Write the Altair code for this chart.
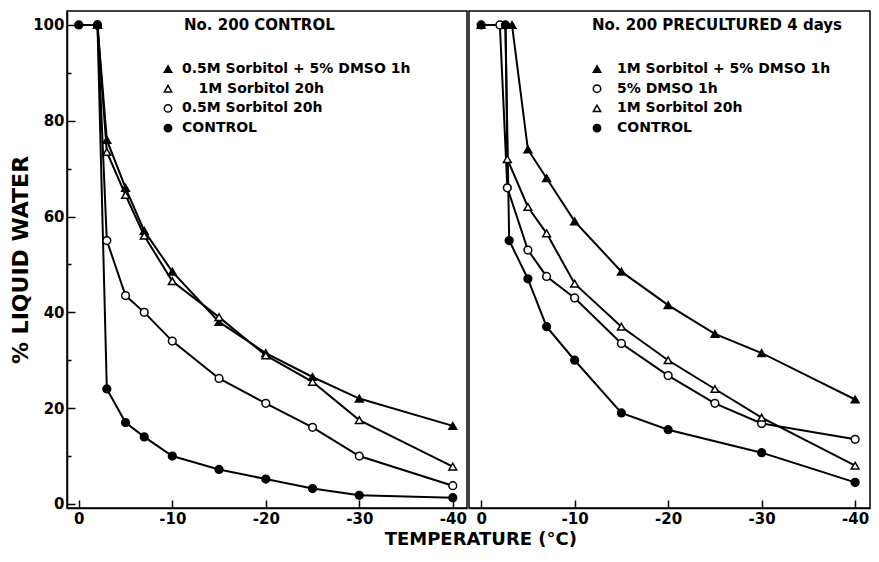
import altair as alt
import pandas as pd

FONT = "DejaVu Sans"

# ---------------- Panel A: No. 200 CONTROL ----------------
a_title = "No. 200 CONTROL"
a_labels = ["0.5M Sorbitol + 5% DMSO 1h", "1M Sorbitol 20h", "0.5M Sorbitol 20h", "CONTROL"]
a_shapes = ["triangle-up", "triangle-up", "circle", "circle"]
a_fills = ["black", "white", "white", "black"]

a1_t = [-2, -3, -5, -7, -10, -15, -20, -25, -30, -40]
a1_v = [100, 76, 66, 57, 48.5, 38, 31.5, 26.5, 22, 16.3]
a2_t = [-2, -3, -5, -7, -10, -15, -20, -25, -30, -40]
a2_v = [100, 73.5, 64.5, 56, 46.5, 39, 31, 25.5, 17.5, 7.8]
a3_t = [-2, -3, -5, -7, -10, -15, -20, -25, -30, -40]
a3_v = [100, 55, 43.5, 40, 34, 26.2, 21, 16, 10, 3.8]
a4_t = [0, -2, -3, -5, -7, -10, -15, -20, -25, -30, -40]
a4_v = [100, 100, 24, 17, 14, 10, 7.2, 5.2, 3.2, 1.8, 1.3]

# ---------------- Panel B: No. 200 PRECULTURED 4 days ----------------
b_title = "No. 200 PRECULTURED 4 days"
b_labels = ["1M Sorbitol + 5% DMSO 1h", "5% DMSO 1h", "1M Sorbitol 20h ", "CONTROL "]
b_shapes = ["triangle-up", "circle", "triangle-up", "circle"]
b_fills = ["black", "white", "white", "black"]

b1_t = [-3.3, -5, -7, -10, -15, -20, -25, -30, -40]
b1_v = [100, 74, 68, 59, 48.5, 41.5, 35.5, 31.5, 21.8]
b2_t = [-2, -2.8, -5, -7, -10, -15, -20, -25, -30, -40]
b2_v = [100, 66, 53, 47.5, 43, 33.5, 26.8, 21, 16.8, 13.5]
b3_t = [0, -2.6, -2.8, -5, -7, -10, -15, -20, -25, -30, -40]
b3_v = [100, 100, 72, 62, 56.5, 46, 37, 30, 24, 18, 8]
b4_t = [0, -2.6, -3, -5, -7, -10, -15, -20, -30, -40]
b4_v = [100, 100, 55, 47, 37, 30, 19, 15.5, 10.7, 4.5]

x_ticks = [0, -10, -20, -30, -40]
y_ticks = [0, 10, 20, 30, 40, 50, 60, 70, 80, 90, 100]


def frame(labels, series):
    rows = []
    for lab, (ts, vs) in zip(labels, series):
        for i, (t, v) in enumerate(zip(ts, vs)):
            rows.append({"series": lab, "T": t, "W": v, "idx": i})
    return pd.DataFrame(rows)


dfa = frame(a_labels, [(a1_t, a1_v), (a2_t, a2_v), (a3_t, a3_v), (a4_t, a4_v)])
dfb = frame(b_labels, [(b1_t, b1_v), (b2_t, b2_v), (b3_t, b3_v), (b4_t, b4_v)])

y_scale = alt.Scale(domain=[-0.85, 102.92], nice=False, zero=False)


def panel(df, labels, shapes, fills, title, xdom, width, show_y, title_dx, leg_x, lab_off, label_expr):
    x = alt.X(
        "T:Q",
        scale=alt.Scale(domain=xdom, nice=False, zero=False),
        axis=alt.Axis(
            values=x_ticks,
            labelExpr="datum.value == 0 ? '0' : '-' + abs(datum.value)",
            tickSize={"expr": "-8"},
            labelPadding=11,
            title=None,
            grid=False,
            labelFontSize=15,
            labelFont=FONT,
            labelFontWeight="bold",
            labelColor="black",
        ),
    )
    if show_y:
        y = alt.Y(
            "W:Q",
            scale=y_scale,
            axis=alt.Axis(
                values=y_ticks,
                labelExpr="datum.value % 20 == 0 ? datum.value : ''",
                tickSize={"expr": "datum.value % 20 == 0 ? -8 : -4"},
                labelPadding=11,
                title="% LIQUID WATER",
                titleFontSize=22,
                titleFont=FONT,
                titleFontWeight="bold",
                titleColor="black",
                titlePadding=0,
                grid=False,
                labelFontSize=15,
                labelFont=FONT,
                labelFontWeight="bold",
                labelColor="black",
            ),
        )
    else:
        y = alt.Y("W:Q", scale=y_scale, axis=None)

    legend = alt.Legend(
        title=None,
        orient="none",
        legendX=leg_x,
        legendY=51,
        labelFontSize=14,
        labelFont=FONT,
        labelFontWeight="bold",
        labelColor="black",
        labelLimit=400,
        labelExpr=label_expr,
        symbolSize=55,
        symbolStrokeWidth=1.5,
        rowPadding=5.7,
        labelOffset=lab_off,
        padding=0,
    )

    lines = alt.Chart(df).mark_line(color="black", strokeWidth=2).encode(
        x=x, y=y, detail="series:N", order="idx:Q"
    )
    pts = alt.Chart(df).mark_point(
        strokeWidth=1.5, opacity=1, fillOpacity=1, size=60
    ).encode(
        x=x,
        y=y,
        shape=alt.Shape("series:N", scale=alt.Scale(domain=labels, range=shapes), legend=legend),
        fill=alt.Fill("series:N", scale=alt.Scale(domain=labels, range=fills), legend=legend),
        stroke=alt.Stroke("series:N", scale=alt.Scale(domain=labels, range=["black"] * 4), legend=legend),
    )
    return alt.layer(lines, pts).properties(
        width=width,
        height=497,
        title=alt.TitleParams(
            title,
            anchor="start",
            frame="group",
            orient="top",
            offset=0,
            dx=title_dx,
            dy=22,
            fontSize=15,
            font=FONT,
            fontWeight="bold",
            color="black",
        ),
    )


left = panel(dfa, a_labels, a_shapes, a_fills, a_title, [1.26, -41.52], 400, True, 117, 94, 7,
             "datum.label == '1M Sorbitol 20h' ? '\u2800\u2009\u20091M Sorbitol 20h' : datum.label")
right = panel(dfb, b_labels, b_shapes, b_fills, b_title, [1.3, -41.59], 401, False, 123, 121, 13,
              "datum.label")

chart = (
    alt.hconcat(left, right, spacing=0)
    .resolve_scale(x="independent", shape="independent", fill="independent", stroke="independent")
    .resolve_legend(shape="independent", fill="independent", stroke="independent")
    .properties(
        title=alt.TitleParams(
            "TEMPERATURE (°C)",
            orient="bottom",
            anchor="middle",
            fontSize=18,
            font=FONT,
            fontWeight="bold",
            color="black",
            offset=4,
            dx=41,
        ),
        padding={"left": 0, "top": 2, "right": 0, "bottom": 0},
    )
    .configure_view(stroke="black", strokeWidth=1.5)
    .configure_axis(domainColor="black", domainWidth=1.5, tickColor="black", tickWidth=1.5)
)

chart.save("out.html", embed_options={"renderer": "svg", "actions": False})
